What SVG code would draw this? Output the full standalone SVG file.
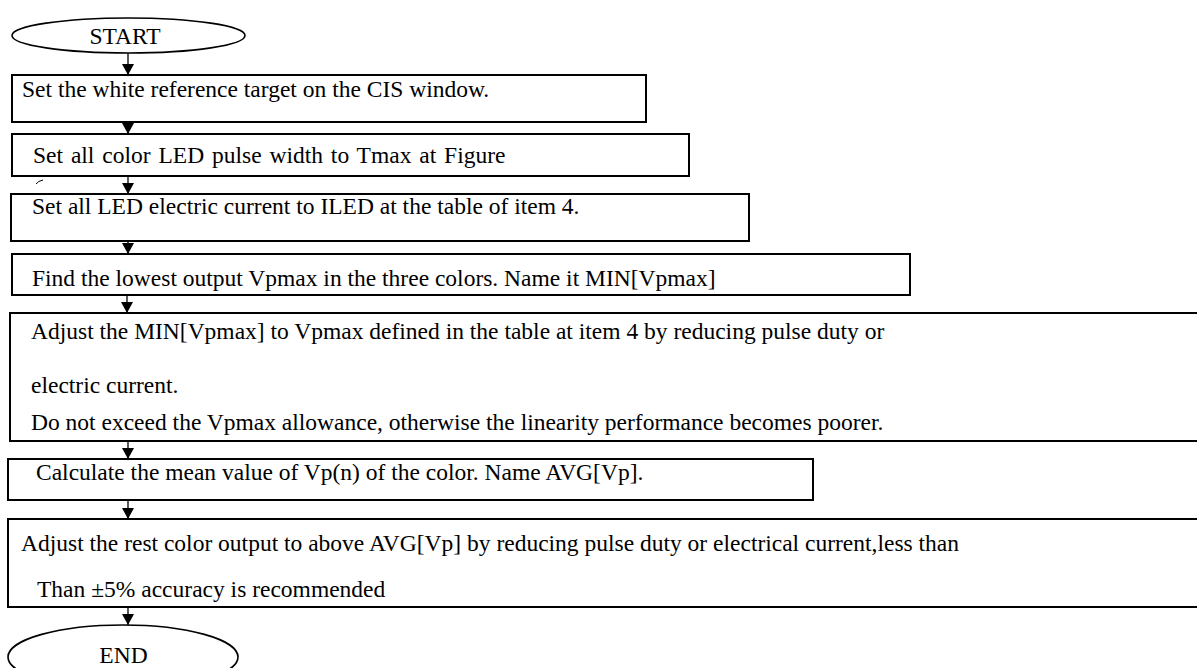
<svg xmlns="http://www.w3.org/2000/svg" width="1197" height="668" viewBox="0 0 1197 668">
<style>
.box{fill:#fff;stroke:#000;stroke-width:2}
.term{fill:#fff;stroke:#000;stroke-width:1.6}
.t{font-family:"Liberation Serif","Times New Roman",serif;font-size:23.5px;fill:#000}
.c{stroke:#000;stroke-width:1.3;fill:none}
.mark{stroke:#000;stroke-width:1;fill:none}
</style>
<defs>
<marker id="ah" markerUnits="userSpaceOnUse" markerWidth="12" markerHeight="12" refX="11" refY="6" orient="auto">
<path d="M0,0 L11,6 L0,12 z" fill="#000"/>
</marker>
</defs>
<rect width="1197" height="668" fill="#fff"/>
<g id="connectors">
<line class="c" x1="128" y1="53" x2="128" y2="75" marker-end="url(#ah)"/>
<line class="c" x1="128" y1="122" x2="128" y2="134" marker-end="url(#ah)"/>
<line class="c" x1="128" y1="176" x2="128" y2="194" marker-end="url(#ah)"/>
<line class="c" x1="128" y1="241" x2="128" y2="254" marker-end="url(#ah)"/>
<line class="c" x1="127" y1="295" x2="127" y2="313" marker-end="url(#ah)"/>
<line class="c" x1="128" y1="441" x2="128" y2="459" marker-end="url(#ah)"/>
<line class="c" x1="128" y1="500" x2="128" y2="519" marker-end="url(#ah)"/>
<line class="c" x1="128" y1="607" x2="128" y2="625" marker-end="url(#ah)"/>
</g>
<g id="start">
<ellipse class="term" cx="128.5" cy="35.5" rx="116.5" ry="17.5"/>
<text class="t" x="125" y="44" text-anchor="middle">START</text>
</g>
<g id="step1">
<rect class="box" x="12" y="75" width="634" height="47"/>
<text class="t" x="22" y="97">Set the white reference target on the CIS window.</text>
</g>
<g id="step2">
<rect class="box" x="12" y="134" width="677" height="42"/>
<text class="t" x="33" y="163" word-spacing="2">Set all color LED pulse width to Tmax at Figure</text>
<path class="mark" d="M36,184 Q38,181 43,180"/>
</g>
<g id="step3">
<rect class="box" x="11" y="194" width="738" height="47"/>
<text class="t" x="32" y="214">Set all LED electric current to ILED at the table of item 4.</text>
</g>
<g id="step4">
<rect class="box" x="12" y="254" width="898" height="41"/>
<text class="t" x="32" y="286">Find the lowest output Vpmax in the three colors. Name it MIN[Vpmax]</text>
</g>
<g id="step5">
<rect class="box" x="10" y="313" width="1192" height="128"/>
<text class="t" x="31" y="339">Adjust the MIN[Vpmax] to Vpmax defined in the table at item 4 by reducing pulse duty or</text>
<text class="t" x="31" y="393">electric current.</text>
<text class="t" x="31" y="430">Do not exceed the Vpmax allowance, otherwise the linearity performance becomes poorer.</text>
</g>
<g id="step6">
<rect class="box" x="8" y="459" width="805" height="41"/>
<text class="t" x="36" y="480">Calculate the mean value of Vp(n) of the color. Name AVG[Vp].</text>
</g>
<g id="step7">
<rect class="box" x="8" y="519" width="1194" height="88"/>
<text class="t" x="21" y="551">Adjust the rest color output to above AVG[Vp] by reducing pulse duty or electrical current,less than</text>
<text class="t" x="37" y="597">Than ±5% accuracy is recommended</text>
</g>
<g id="end">
<ellipse class="term" cx="123" cy="657" rx="115" ry="32"/>
<text class="t" x="123.5" y="663" text-anchor="middle">END</text>
</g>
</svg>
